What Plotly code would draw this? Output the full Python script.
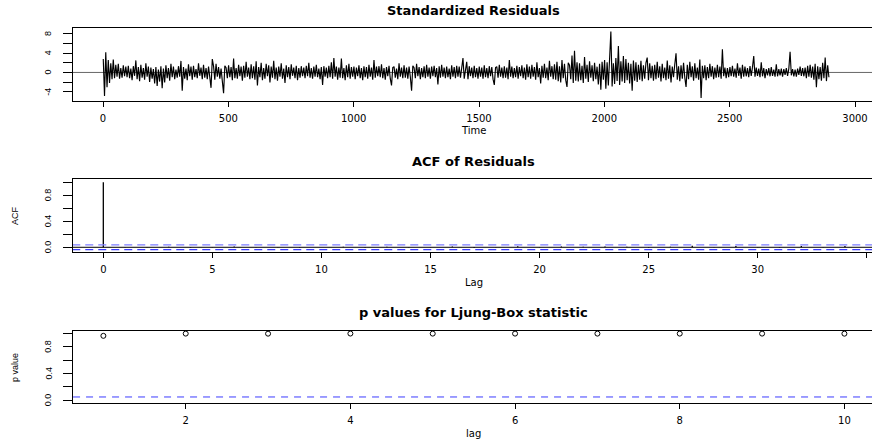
import plotly.graph_objects as go

# ---------------- data ----------------
time_step = 5
residuals = [
    2.8, -4.9, 4.2, -3.1, 2.6, -2.2, 1.9, -1.4, 2.7, -1.2, 1.6, -0.9, 1.8, -1.3, 0.9, -1.1, 1.5, -0.8, 1.2, -1.0,
    1.4, -1.2, 0.8, -1.6, 1.3, -0.7, 2.5, -1.4, 1.1, -1.8, 1.6, -1.1, 0.9, -1.5, 1.9, -0.9, 1.2, -2.0, 1.0, -1.3,
    0.7, -2.3, 1.1, -2.8, 0.6, -1.9, 1.3, -3.3, 0.8, -2.1, 1.5, -1.2, 0.9, -1.7, 1.8, -1.0, 1.2, -1.4, 0.6, -1.1,
    1.3, -0.9, 2.4, -3.8, 1.1, -1.3, 0.8, -1.6, 1.7, -0.8, 1.2, -1.5, 1.4, -1.0, 0.7, -1.2, 1.9, -0.7, 1.0, -1.4,
    1.6, -1.1, 0.9, -1.4, 1.2, -1.0, -3.2, 2.8, 1.3, -1.5, 1.8, -0.9, 1.1, -1.3, 0.8, -1.8, -4.3, 1.4, 1.0, -1.2,
    1.5, -1.0, 1.1, -1.6, 2.9, -1.2, 0.9, -1.3, 1.6, -0.8, 1.2, -1.7, 1.4, -1.1, 2.2, -0.9, 1.0, -1.4, 1.7, -1.2,
    1.3, -1.5, 2.3, -2.7, 1.1, -1.0, 2.0, -1.6, 0.9, -1.3, 1.8, -0.8, 1.5, -2.1, 1.2, -1.1, 2.4, -1.4, 1.0, -1.7,
    1.2, -0.9, 1.9, -1.3, 0.8, -2.2, 1.5, -1.0, 1.1, -1.4, 1.7, -0.7, 1.0, -1.2, 1.4, -1.6, 0.9, -1.1, 1.3, -0.8,
    1.0, -1.2, 1.4, -0.8, 2.0, -1.1, 0.9, -1.3, 1.2, -0.9, 1.6, -1.0, 0.8, -1.4, 1.1, -2.6, 1.3, -0.9, 1.0, -1.2,
    1.4, -1.0, 2.1, -1.3, 3.0, -0.9, 1.2, -1.5, 1.0, -1.1, 2.9, -1.2, 0.9, -1.6, 1.5, -1.0, 1.8, -1.3, 1.1, -0.9,
    1.2, -1.4, 1.0, -0.8, 1.5, -1.2, 0.9, -1.6, 1.3, -1.0, 1.1, -1.3, 1.6, -0.9, 1.0, -1.5, 2.6, -1.1, 1.2, -0.8,
    1.3, -1.0, 1.7, -1.2, 0.9, -1.5, 1.1, -0.8, 1.4, -1.3, -2.7, 1.0, 1.2, -1.1, 0.8, -1.4, 1.9, -0.9, 1.0, -1.2,
    1.5, -1.1, 1.0, -1.3, 1.2, -0.9, -3.8, 1.4, 1.0, -1.2, 1.8, -0.8, 1.1, -1.4, 0.9, -1.0, 1.3, -1.2, 1.6, -0.9,
    1.0, -1.3, 1.2, -0.8, 1.4, -1.0, 0.9, -2.5, 1.3, -1.1, 1.6, -0.9, 1.0, -1.2, 1.2, -1.0, 0.8, -1.4, 1.5, -0.9,
    1.1, -1.2, 1.4, -0.9, 1.2, -1.1, 1.6, 3.0, -1.3, 1.0, 2.2, -1.4, 1.3, -0.8, 1.0, -1.2, 1.4, -1.0, 0.9, -1.3,
    1.2, -0.9, 1.0, -1.3, 1.5, -1.0, 0.9, -1.2, 1.3, -0.8, 1.1, -1.4, -2.6, 1.0, 1.2, -1.1, 1.6, -0.9, 1.0, -1.2,
    1.3, -1.1, 1.0, -1.4, 2.6, -0.9, 1.2, -1.2, 0.9, -1.0, 1.4, -1.3, 1.1, -0.8, 1.5, -1.2, 1.0, -1.5, 1.7, -1.0,
    1.2, -1.3, 1.6, -0.9, 1.1, -1.5, 2.1, -1.0, 0.9, -2.3, 1.4, -1.1, 1.8, -1.2, 1.0, -1.6, 2.4, -0.9, 1.3, -1.4,
    1.7, -1.5, 2.2, -1.8, 1.3, -2.1, 2.6, -1.2, 1.8, -1.6, -3.0, 2.0, 1.5, -1.4, 3.5, -2.2, 4.5, -1.7, 2.1, -1.9,
    1.9, -1.6, 1.4, -2.2, 3.2, -1.3, 1.6, -2.0, 2.3, -1.1, 1.5, -1.8, 2.0, -1.4, 1.2, -2.5, 1.8, -3.6, 2.2, -1.5,
    2.6, -3.4, 2.1, -2.7, 2.4, 8.5, -2.9, 1.9, -2.4, 3.0, -1.8, 5.5, -2.6, 2.3, -1.9, 3.4, -2.2, 2.8, -1.6, 2.0,
    -2.3, 1.8, -3.8, 2.5, -1.7, 2.1, -2.0, 1.6, -1.5, 2.4, -1.8, 1.5, -1.3, 2.0, 3.1, -1.6, 1.9, -1.2, 1.4, -1.7,
    1.6, -1.4, 2.2, -1.1, 1.3, -1.9, 1.8, -1.2, 1.0, -1.6, 2.5, -1.3, 1.5, -2.1, 1.2, -1.0, 1.7, 4.0, -1.5, 1.3,
    -1.8, 1.5, -1.3, 2.0, -1.1, -3.0, 1.6, -1.4, 2.2, -1.0, 1.3, -1.7, 1.9, -1.2, 1.0, -1.5, 2.7, -5.3, 1.4, -1.2,
    1.5, -1.6, 1.1, -1.2, 1.8, -0.9, 1.3, -1.4, 1.0, -1.1, 1.6, -1.0, 1.2, -1.3, 4.8, -0.8, 1.0, -1.2, 0.9, -1.0,
    1.1, -0.8, 1.4, -0.9, 0.8, -1.1, 1.9, -0.7, 1.0, -1.3, 1.6, -0.9, 1.2, -0.8, 0.9, -1.0, 1.3, -0.7, 1.1, 3.4,
    -0.9, 1.0, -0.7, 0.8, -1.0, 2.1, -0.8, 0.9, -1.2, 0.7, -0.6, 0.9, -0.8, 1.1, -0.7, 0.6, -0.9, 1.7, -0.8, 0.7,
    -0.6, 0.8, -0.9, 0.7, -0.5, 0.9, -0.7, 0.8, 4.3, -0.6, 0.7, -0.8, 0.6, -0.9, 0.8, -0.5, 1.2, -0.7, 0.9, -0.8,
    1.0, -1.2, 1.4, -0.9, 1.6, -1.1, 1.2, -1.5, 1.8, -3.1, 1.3, -1.4, 1.1, -1.7, 2.0, -1.2, 3.1, -1.8, 1.5, -1.0,
]
time = [1 + time_step * i for i in range(len(residuals))]

acf_lags = list(range(35))
acf_values = [1.0, 0.006, -0.004, 0.009, -0.007, 0.003, 0.011, -0.005, 0.004, -0.008,
              0.002, 0.007, -0.006, 0.010, -0.003, 0.005, 0.012, -0.009, 0.006, 0.015,
              -0.004, 0.013, 0.008, 0.014, 0.010, -0.006, 0.007, 0.022, -0.005, 0.020,
              0.004, -0.007, 0.021, 0.006, 0.018]
acf_ci = 0.0364

lb_lags = [1, 2, 3, 4, 5, 6, 7, 8, 9, 10]
lb_pvalues = [0.962, 0.995, 0.994, 0.996, 0.995, 0.995, 0.995, 0.995, 0.995, 0.994]
lb_threshold = 0.05

res_yticks = [-4, -2, 0, 2, 4, 6, 8]
res_ylabels = ["-4", "", "0", "", "4", "", "8"]
prob_yticks = [0, 0.2, 0.4, 0.6, 0.8, 1.0]
prob_ylabels = ["0.0", "", "0.4", "", "0.8", ""]

# ---------------- figure ----------------
W, H = 872, 441
ML = 73

def ydom(top_px, bot_px):
    return [(H - bot_px) / H, (H - top_px) / H]

def px_x(px):
    return (px - ML) / (W - ML)

def px_y(py):
    return (H - py) / H

TICKFONT = dict(family="DejaVu Sans", size=10, color="black")
YTICKFONT = dict(family="Liberation Sans", size=9, color="black")

fig = go.Figure()

# panel 1: residuals
fig.add_trace(go.Scatter(x=[-200, 3200], y=[0, 0], mode="lines",
                         line=dict(color="#666666", width=1),
                         xaxis="x", yaxis="y", hoverinfo="skip"))
fig.add_trace(go.Scatter(x=time, y=residuals, mode="lines",
                         line=dict(color="black", width=1.15),
                         xaxis="x", yaxis="y"))

# panel 2: ACF
acf_x, acf_y = [], []
for lag, v in zip(acf_lags, acf_values):
    acf_x += [lag, lag, None]
    acf_y += [0, v, None]
fig.add_trace(go.Scatter(x=[-5, 40], y=[0, 0], mode="lines",
                         line=dict(color="black", width=1),
                         xaxis="x2", yaxis="y2", hoverinfo="skip"))
fig.add_trace(go.Scatter(x=acf_x, y=acf_y, mode="lines",
                         line=dict(color="black", width=1.3),
                         xaxis="x2", yaxis="y2"))
for c, col in [(acf_ci, "#7d7dff"), (-acf_ci, "#3c3cff")]:
    fig.add_trace(go.Scatter(x=[-5, 40], y=[c, c], mode="lines",
                             line=dict(color=col, width=1.2, dash="8px,5px"),
                             xaxis="x2", yaxis="y2", hoverinfo="skip"))

# panel 3: Ljung-Box p-values
fig.add_trace(go.Scatter(x=[0, 11], y=[lb_threshold, lb_threshold], mode="lines",
                         line=dict(color="#3c3cff", width=1, dash="7px,6px"),
                         xaxis="x3", yaxis="y3", hoverinfo="skip"))
fig.add_trace(go.Scatter(x=lb_lags, y=lb_pvalues, mode="markers",
                         marker=dict(symbol="circle-open", size=5, color="black",
                                     line=dict(width=1, color="black")),
                         xaxis="x3", yaxis="y3"))

common_x = dict(showgrid=False, zeroline=False, showline=True, linecolor="black",
                linewidth=1, mirror=True, ticks="outside", ticklen=5, tickcolor="black",
                tickfont=TICKFONT, domain=[0, 1], ticklabelstandoff=3)
common_y = dict(showgrid=False, zeroline=False, showline=True, linecolor="black",
                linewidth=1, mirror=False, ticks="outside", ticklen=9, tickcolor="black",
                showticklabels=False)

fig.update_layout(
    width=W, height=H,
    margin=dict(l=ML, r=0, t=0, b=0, autoexpand=False),
    paper_bgcolor="white", plot_bgcolor="white",
    showlegend=False,
    xaxis=dict(common_x, anchor="y", range=[-119.7, 3067.8],
               tickvals=[0, 500, 1000, 1500, 2000, 2500, 3000]),
    yaxis=dict(common_y, anchor="x", domain=ydom(28.3, 101), range=[-5.94, 9.18],
               tickvals=res_yticks),
    xaxis2=dict(common_x, anchor="y2", range=[-1.39, 35.24],
                tickvals=[0, 5, 10, 15, 20, 25, 30, 35]),
    yaxis2=dict(common_y, anchor="x2", domain=ydom(179.3, 252.3), range=[-0.077, 1.046],
                tickvals=prob_yticks),
    xaxis3=dict(common_x, anchor="y3", range=[0.631, 10.335],
                tickvals=[2, 4, 6, 8, 10]),
    yaxis3=dict(common_y, anchor="x3", domain=ydom(331, 403), range=[-0.04, 1.034],
                tickvals=prob_yticks),
)

# rotated y tick labels (R style), placed on the axes' own scales
for yref, vals, labels in [("y", res_yticks, res_ylabels),
                           ("y2", prob_yticks, prob_ylabels),
                           ("y3", prob_yticks, prob_ylabels)]:
    for v, lab in zip(vals, labels):
        if not lab:
            continue
        fig.add_annotation(text=lab, x=px_x(48), y=v, xref="paper", yref=yref,
                           xanchor="center", yanchor="middle", showarrow=False,
                           font=YTICKFONT, textangle=-90)

TITLE_FONT = dict(family="DejaVu Sans", size=13, color="black")
LABEL_FONT = dict(family="DejaVu Sans", size=10, color="black")
YLABEL_FONT = dict(family="Liberation Sans", size=9, color="black")

annotations = [
    ("<b>Standardized Residuals</b>", 474, 11, TITLE_FONT, 0),
    ("<b>ACF of Residuals</b>", 474, 161, TITLE_FONT, 0),
    ("<b>p values for Ljung-Box statistic</b>", 474, 312, TITLE_FONT, 0),
    ("Time", 474, 130, LABEL_FONT, 0),
    ("Lag", 474, 282, LABEL_FONT, 0),
    ("lag", 474, 433, LABEL_FONT, 0),
    ("ACF", 15, 216, YLABEL_FONT, -90),
    ("p value", 15, 368, YLABEL_FONT, -90),
]
for text, x, y, font, ang in annotations:
    fig.add_annotation(text=text, x=px_x(x), y=px_y(y), xref="paper", yref="paper",
                       xanchor="center", yanchor="middle", showarrow=False,
                       font=font, textangle=ang)

fig.write_html("out.html")
